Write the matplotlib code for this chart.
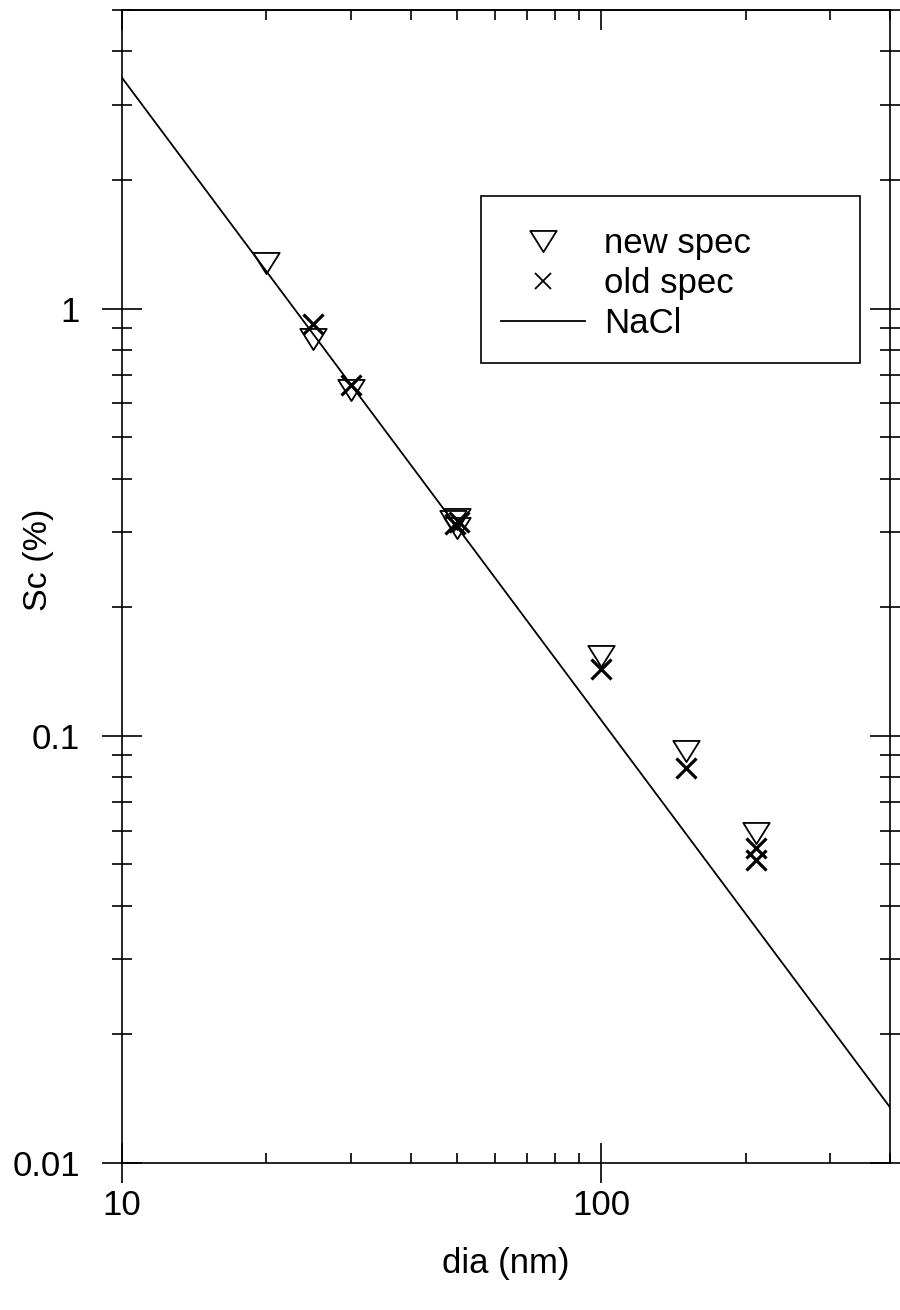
import matplotlib
matplotlib.use("Agg")
import matplotlib.pyplot as plt
import numpy as np
from matplotlib.path import Path
from matplotlib.lines import Line2D
from matplotlib.patches import Rectangle
from matplotlib.ticker import LogLocator, FixedLocator, NullFormatter, FixedFormatter

plt.rcParams['font.family'] = ['Liberation Sans', 'DejaVu Sans']

# data
new_dia = [20, 25, 30, 49, 50, 50, 100, 150, 210]
new_sc = [1.28, 0.851, 0.646, 0.318, 0.322, 0.307, 0.1535, 0.092, 0.0591]
old_dia = [25, 30, 49.5, 50.5, 100, 150, 210, 210]
old_sc = [0.922, 0.664, 0.314, 0.316, 0.1431, 0.0839, 0.0546, 0.0511]
nacl_dia = [10, 400]
nacl_sc = [3.47, 0.0135]

x_ticks = [10, 100]
x_tick_labels = ['10', '100']
y_ticks = [0.01, 0.1, 1]
y_tick_labels = ['0.01', '0.1', '1']

W, H = 900, 1310
fig = plt.figure(figsize=(W / 100, H / 100), dpi=100)
ax = fig.add_axes([122 / W, 1 - 1163 / H, (890 - 122) / W, (1163 - 10) / H])

tri = Path([(-1, 0.8), (1, 0.8), (0, -0.8), (-1, 0.8)],
           [Path.MOVETO, Path.LINETO, Path.LINETO, Path.CLOSEPOLY])

ax.plot(nacl_dia, nacl_sc, color='black', lw=1.3)
ax.plot(new_dia, new_sc, ls='none', marker=tri, markersize=19,
        markerfacecolor='none', markeredgecolor='black', markeredgewidth=1.3)
ax.plot(old_dia, old_sc, ls='none', marker='x', markersize=14.5,
        markeredgecolor='black', markeredgewidth=2.3)

ax.set_xscale('log')
ax.set_yscale('log')
ax.set_xlim(10, 400)
ax.set_ylim(0.01, 5)

ax.xaxis.set_major_locator(FixedLocator(x_ticks))
ax.xaxis.set_major_formatter(FixedFormatter(x_tick_labels))
ax.xaxis.set_minor_locator(LogLocator(base=10, subs=np.arange(2, 10)))
ax.xaxis.set_minor_formatter(NullFormatter())
ax.yaxis.set_major_locator(FixedLocator(y_ticks))
ax.yaxis.set_major_formatter(FixedFormatter(y_tick_labels))
ax.yaxis.set_minor_locator(LogLocator(base=10, subs=np.arange(2, 10)))
ax.yaxis.set_minor_formatter(NullFormatter())

for s in ax.spines.values():
    s.set_linewidth(1.2)

ax.tick_params(axis='y', which='major', direction='inout', length=28.8, width=1.2,
               left=True, right=True, labelsize=25, pad=16)
ax.tick_params(axis='y', which='minor', direction='inout', length=14.4, width=1.2,
               left=True, right=True)
ax.tick_params(axis='x', which='major', direction='inout', length=28.8, width=1.2,
               bottom=True, top=False, labelsize=25, pad=4)
ax.tick_params(axis='x', which='minor', direction='in', length=7.2, width=1.2,
               bottom=True, top=False)

sec = ax.secondary_xaxis('top')
sec.set_xscale('log')
sec.xaxis.set_major_locator(FixedLocator(x_ticks))
sec.xaxis.set_minor_locator(LogLocator(base=10, subs=np.arange(2, 10)))
sec.xaxis.set_major_formatter(NullFormatter())
sec.xaxis.set_minor_formatter(NullFormatter())
sec.tick_params(which='major', direction='in', length=14.4, width=1.2)
sec.tick_params(which='minor', direction='in', length=7.2, width=1.2)
sec.spines['top'].set_linewidth(1.2)

ax.set_xlabel('dia (nm)', fontsize=25, labelpad=18)
fig.text(38 / W, 1 - 560 / H, 'Sc (%)', fontsize=24.5, rotation=90,
         ha='center', va='center')

# legend frame
fig.patches.append(Rectangle((481 / W, 1 - 363 / H), (860 - 481) / W, (363 - 196) / H,
                             transform=fig.transFigure, fill=False,
                             edgecolor='black', linewidth=1.2, zorder=5))

handles = [
    Line2D([], [], ls='none', marker=tri, markersize=19, markerfacecolor='none',
           markeredgecolor='black', markeredgewidth=1.3),
    Line2D([], [], ls='none', marker='x', markersize=12, markeredgecolor='black',
           markeredgewidth=1.3),
    Line2D([], [], color='black', lw=1.3),
]
leg = ax.legend(handles, ['new spec', 'old spec', 'NaCl'], loc='upper left',
                bbox_to_anchor=((470 - 122) / 768, 1 - (196 - 10) / 1153),
                fontsize=25, frameon=False,
                handlelength=2.4, handletextpad=0.55, labelspacing=0.2,
                borderpad=0.9, borderaxespad=0)

fig.savefig('out.png', dpi=100)
